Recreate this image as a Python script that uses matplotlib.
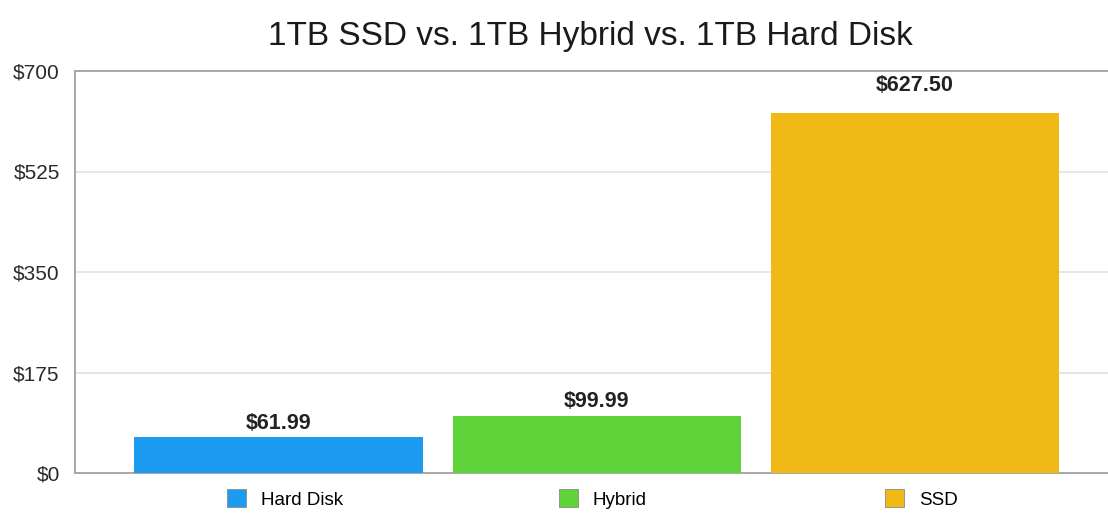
import matplotlib
matplotlib.use("Agg")
import matplotlib.pyplot as plt
import matplotlib.transforms as mtransforms
from matplotlib.patches import Patch

categories = ["Hard Disk", "Hybrid", "SSD"]
prices = [61.99, 99.99, 627.50]
bar_colors = ["#1c9bf0", "#5fd43a", "#f0b915"]
yticks = [0, 175, 350, 525, 700]
ytick_labels = ["$0", "$175", "$350", "$525", "$700"]

plt.rcParams["font.family"] = ["Liberation Sans", "DejaVu Sans"]

fig = plt.figure(figsize=(11.08, 5.23), dpi=100)
ax = fig.add_axes([75 / 1108, 50 / 523, 1 - 75 / 1108, 402 / 523])

x = range(len(categories))
bars = ax.bar(x, prices, width=0.906, color=bar_colors, zorder=3)

# value labels above each bar (SSD label sits a bit higher)
label_pad = [2.5, 2.5, 12]
for b, v, pad in zip(bars, prices, label_pad):
    ax.annotate(f"${v:,.2f}", (b.get_x() + b.get_width() / 2, v),
                xytext=(0, pad), textcoords="offset points",
                ha="center", va="bottom", fontsize=15.5, fontweight="bold", color="#222222")

ax.set_xlim(-0.64, 2.607)
ax.set_ylim(0, 700)
ax.set_yticks(yticks)
ax.set_yticklabels(ytick_labels, fontsize=15, color="#2a2a2a")
ax.tick_params(axis="y", length=0, pad=11)
ax.set_xticks([])
ax.grid(axis="y", color="#e2e2e2", lw=1.2, zorder=0)
for s in ("left", "top", "bottom"):
    ax.spines[s].set_color("#a8a8a8")
    ax.spines[s].set_linewidth(1.4)
ax.spines["right"].set_visible(False)

# one legend entry centred under each bar
trans = mtransforms.blended_transform_factory(ax.transData, ax.transAxes)
for i, (cat, col) in enumerate(zip(categories, bar_colors)):
    leg = ax.legend(handles=[Patch(facecolor=col, edgecolor="#8a8a8a", lw=0.6)], labels=[cat],
                    loc="upper center", bbox_to_anchor=(i + 0.02, -0.022), bbox_transform=trans,
                    frameon=False, fontsize=13.5, handlelength=1.0, handleheight=1.1,
                    handletextpad=0.8, borderaxespad=0)
    if i < len(categories) - 1:
        ax.add_artist(leg)

fig.suptitle("1TB SSD vs. 1TB Hybrid vs. 1TB Hard Disk", fontsize=24,
             color="#1a1a1a", x=0.533, y=1 - 36 / 523, va="center")

fig.savefig("out.png", dpi=100)
